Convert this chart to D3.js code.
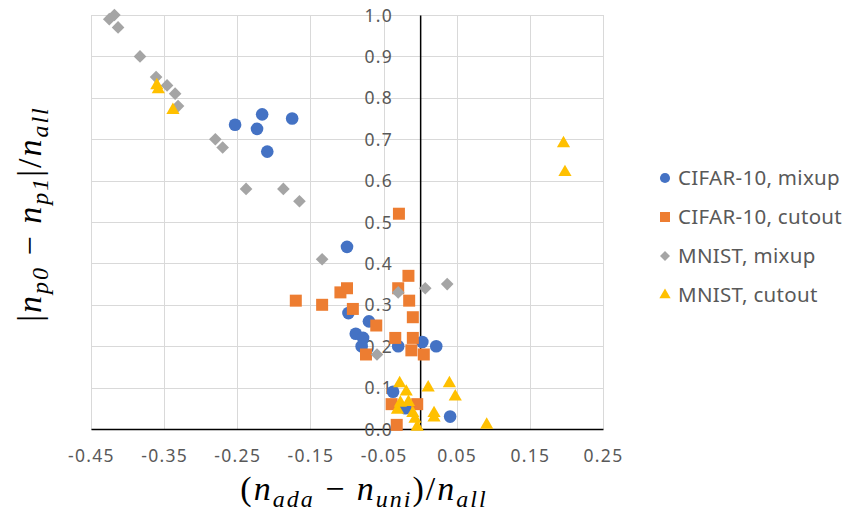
<!DOCTYPE html>
<html>
<head>
<meta charset="utf-8">
<script src="https://cdn.jsdelivr.net/npm/d3@7"></script>
<style>
  html, body { margin: 0; padding: 0; background: #fff; }
  svg { display: block; }
</style>
</head>
<body>
<svg id="chart" width="846" height="523"></svg>
<script>
// ---------- data ----------
const seriesNames = ["CIFAR-10, mixup", "CIFAR-10, cutout", "MNIST, mixup", "MNIST, cutout"];

const cifarMixupX = [-0.253, -0.216, -0.223, -0.175, -0.209, -0.100, -0.098, -0.070, -0.088, -0.078, -0.080, -0.030, 0.003, 0.022, -0.037, -0.020, 0.041];
const cifarMixupY = [0.735, 0.760, 0.725, 0.750, 0.670, 0.440, 0.280, 0.260, 0.230, 0.220, 0.200, 0.200, 0.210, 0.200, 0.090, 0.050, 0.030];

const cifarCutoutX = [-0.029, -0.016, -0.030, -0.015, -0.170, -0.134, -0.109, -0.100, -0.092, -0.060, -0.010, -0.034, -0.010, -0.012, -0.074, 0.005, -0.039, -0.004, -0.032];
const cifarCutoutY = [0.520, 0.370, 0.340, 0.310, 0.310, 0.300, 0.330, 0.340, 0.290, 0.250, 0.270, 0.220, 0.220, 0.190, 0.180, 0.180, 0.060, 0.060, 0.010];

const mnistMixupX = [-0.425, -0.418, -0.413, -0.383, -0.361, -0.346, -0.335, -0.331, -0.280, -0.270, -0.238, -0.187, -0.165, -0.134, -0.030, 0.007, 0.037, -0.059];
const mnistMixupY = [0.990, 1.000, 0.970, 0.900, 0.850, 0.830, 0.810, 0.780, 0.700, 0.680, 0.580, 0.580, 0.550, 0.410, 0.330, 0.340, 0.350, 0.180];

const mnistCutoutX = [-0.360, -0.358, -0.338, 0.196, 0.198, -0.028, -0.019, -0.016, -0.027, -0.031, -0.010, -0.007, -0.004, 0.011, 0.019, 0.019, 0.040, 0.048, 0.091];
const mnistCutoutY = [0.830, 0.820, 0.770, 0.690, 0.620, 0.110, 0.090, 0.065, 0.063, 0.046, 0.038, 0.024, 0.005, 0.100, 0.038, 0.027, 0.110, 0.078, 0.010];

const xTicks = [-0.45, -0.35, -0.25, -0.15, -0.05, 0.05, 0.15, 0.25];
const yTicks = [0.0, 0.1, 0.2, 0.3, 0.4, 0.5, 0.6, 0.7, 0.8, 0.9, 1.0];

// ---------- styles ----------
const colors = ["#4472C4", "#ED7D31", "#A5A5A5", "#FFC000"];
const series = [
  { name: seriesNames[0], xs: cifarMixupX, ys: cifarMixupY, type: d3.symbolCircle, size: 125, rot: 0, lsize: 80 },
  { name: seriesNames[1], xs: cifarCutoutX, ys: cifarCutoutY, type: d3.symbolSquare, size: 144, rot: 0, lsize: 100 },
  { name: seriesNames[2], xs: mnistMixupX, ys: mnistMixupY, type: d3.symbolSquare, size: 80, rot: 45, lsize: 50 },
  { name: seriesNames[3], xs: mnistCutoutX, ys: mnistCutoutY, type: d3.symbolTriangle, size: 75, rot: 0, lsize: 55 }
];

const svg = d3.select("#chart");
const pLeft = 91, pRight = 603, pTop = 15, pBottom = 429;

const x = d3.scaleLinear().domain([-0.45, 0.25]).range([pLeft, pRight]);
const y = d3.scaleLinear().domain([0, 1]).range([pBottom, pTop]);

// gridlines
const grid = svg.append("g");
grid.selectAll("line.v").data(xTicks).join("line")
  .attr("x1", d => Math.round(x(d)) + 0.5).attr("x2", d => Math.round(x(d)) + 0.5)
  .attr("y1", pTop).attr("y2", pBottom)
  .attr("stroke", "#D9D9D9").attr("stroke-width", 1);
grid.selectAll("line.h").data(yTicks).join("line")
  .attr("x1", pLeft).attr("x2", pRight)
  .attr("y1", d => Math.round(y(d)) + 0.5).attr("y2", d => Math.round(y(d)) + 0.5)
  .attr("stroke", "#D9D9D9").attr("stroke-width", 1);

// x axis (at y = 0)
const xAxis = d3.axisBottom(x).tickValues(xTicks).tickSize(0).tickFormat(d3.format(".2f"));
const gx = svg.append("g").attr("transform", `translate(0,${y(0)})`).call(xAxis);
gx.select(".domain").attr("stroke", "#000").attr("stroke-width", 1.5);
gx.selectAll("text")
  .attr("y", 27).attr("dy", "0.32em")
  .attr("fill", "#595959")
  .style("font-family", "'Noto Sans', sans-serif")
  .style("font-size", "17.5px")
  .style("letter-spacing", "1.3px")
  .text(d => d3.format(".2f")(d).replace("−", "-"));

// y axis (at x = 0)
const yAxis = d3.axisLeft(y).tickValues(yTicks).tickSize(0).tickFormat(d3.format(".1f"));
const gy = svg.append("g").attr("transform", `translate(${x(0)},0)`).call(yAxis);
gy.select(".domain").attr("stroke", "#000").attr("stroke-width", 1.5);
gy.selectAll("text")
  .attr("x", -27).attr("dy", "0.35em")
  .attr("fill", "#595959")
  .style("font-family", "'Noto Sans', sans-serif")
  .style("font-size", "17.5px")
  .style("letter-spacing", "1.3px");

// points
series.forEach((s, i) => {
  const pts = s.xs.map((v, j) => ({ x: v, y: s.ys[j] }));
  const sym = d3.symbol().type(s.type).size(s.size);
  svg.append("g").selectAll("path").data(pts).join("path")
    .attr("d", sym)
    .attr("transform", d => `translate(${x(d.x)},${y(d.y)}) rotate(${s.rot})`)
    .attr("fill", colors[i]);
});

// legend
const legendY = [178, 217, 256, 295];
const lg = svg.append("g");
series.forEach((s, i) => {
  const sym = d3.symbol().type(s.type).size(s.lsize);
  lg.append("path").attr("d", sym)
    .attr("transform", `translate(665,${legendY[i]}) rotate(${s.rot})`)
    .attr("fill", colors[i]);
  lg.append("text").attr("x", 678).attr("y", legendY[i]).attr("dy", "0.35em")
    .attr("fill", "#595959")
    .style("font-family", "'Noto Sans', sans-serif")
    .style("font-size", "20.5px")
    .style("letter-spacing", "0.3px")
    .text(s.name);
});

// axis titles (math style)
function mathTitle(g, parts) {
  const t = g.append("text")
    .attr("text-anchor", "middle")
    .attr("fill", "#000")
    .style("font-family", "'Liberation Serif', 'DejaVu Serif', serif")
    .style("font-size", "34px")
    .style("letter-spacing", "2px");
  parts.forEach(p => {
    const ts = t.append("tspan").text(p.t);
    if (p.it) ts.style("font-style", "italic");
    if (p.sub) ts.style("font-size", "24px").attr("baseline-shift", "-7px");
  });
  return t;
}

const xt = svg.append("g").attr("transform", "translate(364,500)");
mathTitle(xt, [
  { t: "(" }, { t: "n", it: true }, { t: "ada", it: true, sub: true },
  { t: " − " }, { t: "n", it: true }, { t: "uni", it: true, sub: true },
  { t: ")/" }, { t: "n", it: true }, { t: "all", it: true, sub: true }
]);

const yt = svg.append("g").attr("transform", "translate(41,214) rotate(-90)");
mathTitle(yt, [
  { t: "|" }, { t: "n", it: true }, { t: "p0", it: true, sub: true },
  { t: " − " }, { t: "n", it: true }, { t: "p1", it: true, sub: true },
  { t: "|/" }, { t: "n", it: true }, { t: "all", it: true, sub: true }
]);
</script>
</body>
</html>
